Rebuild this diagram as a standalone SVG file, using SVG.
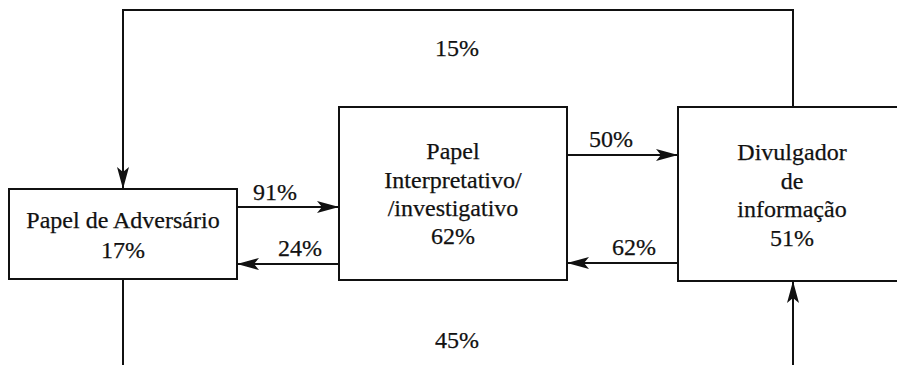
<svg xmlns="http://www.w3.org/2000/svg" width="897" height="365" viewBox="0 0 897 365">
  <style>
    .box { fill: #fff; stroke: #111; stroke-width: 2; }
    .line { fill: none; stroke: #111; stroke-width: 2; }
    .lbl { fill: #111; stroke: #111; stroke-width: 0.25; text-anchor: middle; }
  </style>
  <defs>
    <marker id="arrow" viewBox="0 0 22 12" refX="22" refY="6" markerWidth="22" markerHeight="12" markerUnits="userSpaceOnUse" orient="auto">
      <path d="M0,0 L22,6 L0,12 L5,6 Z" fill="#111"/>
    </marker>
  </defs>
  <rect width="897" height="365" fill="#fff"/>

  <g id="connectors" font-family="Liberation Serif, Times New Roman, serif" font-size="24">
    <!-- feedback loop over the top, into Papel de Adversário -->
    <path class="line" d="M793,107 V10 H123 V189" marker-end="url(#arrow)"/>
    <!-- loop under the bottom, into Divulgador de informação -->
    <path class="line" d="M123,279 V365"/>
    <path class="line" d="M793,365 V281" marker-end="url(#arrow)"/>
    <!-- horizontal links -->
    <path class="line" d="M237,207 H339" marker-end="url(#arrow)"/>
    <path class="line" d="M339,264 H237" marker-end="url(#arrow)"/>
    <path class="line" d="M567,155 H678" marker-end="url(#arrow)"/>
    <path class="line" d="M678,263 H567" marker-end="url(#arrow)"/>
    <text class="lbl" x="457" y="56">15%</text>
    <text class="lbl" x="457" y="348">45%</text>
    <text class="lbl" x="275" y="200">91%</text>
    <text class="lbl" x="300" y="256">24%</text>
    <text class="lbl" x="611" y="147">50%</text>
    <text class="lbl" x="634" y="255">62%</text>
  </g>

  <g id="adversario" font-family="Liberation Serif, Times New Roman, serif" font-size="24">
    <rect class="box" x="9" y="189" width="228" height="90"/>
    <text class="lbl" x="123" y="228">Papel de Adversário</text>
    <text class="lbl" x="123" y="258">17%</text>
  </g>

  <g id="interpretativo" font-family="Liberation Serif, Times New Roman, serif" font-size="24">
    <rect class="box" x="339" y="107" width="228" height="173"/>
    <text class="lbl" x="453" y="159">Papel</text>
    <text class="lbl" x="453" y="188">Interpretativo/</text>
    <text class="lbl" x="453" y="216">/investigativo</text>
    <text class="lbl" x="453" y="244">62%</text>
  </g>

  <g id="divulgador" font-family="Liberation Serif, Times New Roman, serif" font-size="24">
    <rect class="box" x="678" y="107" width="230" height="174"/>
    <text class="lbl" x="792" y="160">Divulgador</text>
    <text class="lbl" x="792" y="189">de</text>
    <text class="lbl" x="792" y="217">informação</text>
    <text class="lbl" x="792" y="246">51%</text>
  </g>
</svg>
